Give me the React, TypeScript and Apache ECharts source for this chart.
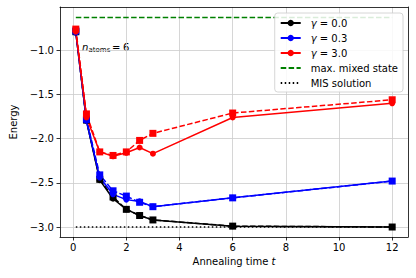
import React, { useEffect, useRef } from 'react';
import * as echarts from 'echarts';

const times = [0.1, 0.5, 1, 1.5, 2, 2.5, 3, 6, 12];
const g00Circles = [-0.8, -1.8, -2.47, -2.68, -2.8, -2.87, -2.92, -2.99, -3.0];
const g00Squares = [-0.79, -1.79, -2.46, -2.66, -2.8, -2.87, -2.92, -2.99, -3.0];
const g03Circles = [-0.8, -1.8, -2.44, -2.63, -2.69, -2.71, -2.77, -2.67, -2.48];
const g03Squares = [-0.78, -1.78, -2.41, -2.59, -2.65, -2.72, -2.77, -2.67, -2.48];
const g30Circles = [-0.79, -1.76, -2.15, -2.2, -2.16, -2.1, -2.17, -1.76, -1.6];
const g30Squares = [-0.76, -1.72, -2.15, -2.19, -2.15, -2.02, -1.94, -1.71, -1.56];
const maxMixed = -0.63;
const misSolution = -3.0;
const hlineSpan = [0.1, 12];
const xTicks = [0, 2, 4, 6, 8, 10, 12];
const yTicks = [-3.0, -2.5, -2.0, -1.5, -1.0];
const gammaNames = ['γ = 0.0', 'γ = 0.3', 'γ = 3.0'];
const refNames = ['max. mixed state', 'MIS solution'];

const FONT = 'DejaVu Sans';

function pairs(ys: number[]) {
  return times.map((t, i) => [t, ys[i]]);
}

export default function App() {
  const ref = useRef<HTMLDivElement>(null);
  useEffect(() => {
    if (!ref.current) return;
    const chart = echarts.init(ref.current, undefined, { renderer: 'svg' });
    const dashed = [5.5, 2.4];
    const mk = (name: string, ys: number[], color: string, square: boolean) => ({
      name,
      type: 'line',
      data: pairs(ys),
      symbol: square ? 'rect' : 'circle',
      symbolSize: square ? 7 : 6,
      lineStyle: { color, width: 1.5, type: square ? dashed : 'solid' },
      itemStyle: { color, borderWidth: 0 },
      z: 3,
    });
    const option: any = {
      animation: false,
      textStyle: { fontFamily: FONT },
      grid: { left: 55, right: 8, top: 7, bottom: 41, containLabel: false },
      xAxis: [
        {
          type: 'value',
          min: -0.495,
          max: 12.595,
          name: 'Annealing time {i|t}',
          nameLocation: 'middle',
          nameGap: 19,
          nameTextStyle: {
            fontFamily: FONT,
            fontSize: 10,
            color: '#000',
            rich: { i: { fontStyle: 'italic', fontFamily: FONT, fontSize: 10, color: '#000' } },
          },
          axisLine: { show: true, onZero: false, lineStyle: { color: '#000', width: 0.8 } },
          axisTick: { show: true, inside: false, length: 3.5, customValues: xTicks, lineStyle: { color: '#000', width: 0.8 } },
          axisLabel: {
            customValues: xTicks,
            margin: 5,
            fontFamily: FONT,
            fontSize: 10,
            color: '#000',
            formatter: (v: number) => String(v),
          },
          splitLine: { show: true, lineStyle: { color: '#cbcbcb', width: 0.8 } },
        },
        {
          type: 'value',
          position: 'top',
          min: -0.495,
          max: 12.595,
          axisLine: { show: true, onZero: false, lineStyle: { color: '#000', width: 0.8 } },
          axisTick: { show: false },
          axisLabel: { show: false },
          splitLine: { show: false },
        },
      ],
      yAxis: [
        {
          type: 'value',
          min: -3.113,
          max: -0.51,
          name: 'Energy',
          nameLocation: 'middle',
          nameGap: 42,
          nameTextStyle: { fontFamily: FONT, fontSize: 10, color: '#000' },
          axisLine: { show: true, onZero: false, lineStyle: { color: '#000', width: 0.8 } },
          axisTick: { show: true, inside: false, length: 3.5, customValues: yTicks, lineStyle: { color: '#000', width: 0.8 } },
          axisLabel: {
            customValues: yTicks,
            margin: 6,
            fontFamily: FONT,
            fontSize: 10,
            color: '#000',
            formatter: (v: number) => v.toFixed(1).replace('-', '\u2212'),
          },
          splitLine: { show: true, lineStyle: { color: '#cbcbcb', width: 0.8 } },
        },
        {
          type: 'value',
          position: 'right',
          min: -3.113,
          max: -0.51,
          axisLine: { show: true, onZero: false, lineStyle: { color: '#000', width: 0.8 } },
          axisTick: { show: false },
          axisLabel: { show: false },
          splitLine: { show: false },
        },
      ],
      legend: {
        data: [
          ...gammaNames,
          ...refNames.map((name) => ({ name, itemStyle: { opacity: 0 } })),
        ],
        orient: 'vertical',
        right: 13,
        top: 13,
        itemWidth: 20,
        itemHeight: 8,
        itemGap: 5,
        padding: [5, 5, 4, 5],
        backgroundColor: 'rgba(255,255,255,0.85)',
        borderColor: '#cccccc',
        borderWidth: 0.8,
        borderRadius: 3,
        selectedMode: false,
        textStyle: {
          fontFamily: FONT,
          fontSize: 10,
          color: '#000',
          padding: [0, 0, 0, 5],
          rich: { i: { fontStyle: 'italic', fontFamily: FONT, fontSize: 10, color: '#000' } },
        },
        formatter: (name: string) => (name.startsWith('γ') ? '{i|γ}' + name.slice(1) : name),
      },
      graphic: [
        {
          type: 'group',
          left: 82,
          top: 42,
          children: [
            { type: 'text', x: 0, y: 0, style: { text: 'n', fontFamily: FONT, fontStyle: 'italic', fontSize: 10, fill: '#000' } },
            { type: 'text', x: 6.5, y: 4.5, style: { text: 'atoms', fontFamily: FONT, fontSize: 7, fill: '#000' } },
            { type: 'text', x: 30, y: 0, style: { text: '=', fontFamily: FONT, fontSize: 10, fill: '#000' } },
            { type: 'text', x: 41, y: 0, style: { text: '6', fontFamily: FONT, fontSize: 10, fill: '#000' } },
          ],
        },
      ],
      series: [
        {
          name: 'max. mixed state',
          type: 'line',
          data: hlineSpan.map((t) => [t, maxMixed]),
          symbol: 'none',
          lineStyle: { color: '#008000', width: 1.5, type: dashed },
          itemStyle: { color: '#008000' },
          z: 2,
        },
        {
          name: 'MIS solution',
          type: 'line',
          data: hlineSpan.map((t) => [t, misSolution]),
          symbol: 'none',
          lineStyle: { color: '#000', width: 1.5, type: [1.5, 2.5] },
          itemStyle: { color: '#000' },
          z: 2,
        },
        mk(gammaNames[0], g00Circles, '#000000', false),
        mk(gammaNames[0] + ' (squares)', g00Squares, '#000000', true),
        mk(gammaNames[1], g03Circles, '#0000ff', false),
        mk(gammaNames[1] + ' (squares)', g03Squares, '#0000ff', true),
        mk(gammaNames[2], g30Circles, '#ff0000', false),
        mk(gammaNames[2] + ' (squares)', g30Squares, '#ff0000', true),
      ],
    };
    chart.setOption(option);
    return () => chart.dispose();
  }, []);
  return (
    <div
      ref={ref}
      style={{ position: 'absolute', left: 0, top: 0, width: 416, height: 278 }}
    />
  );
}
